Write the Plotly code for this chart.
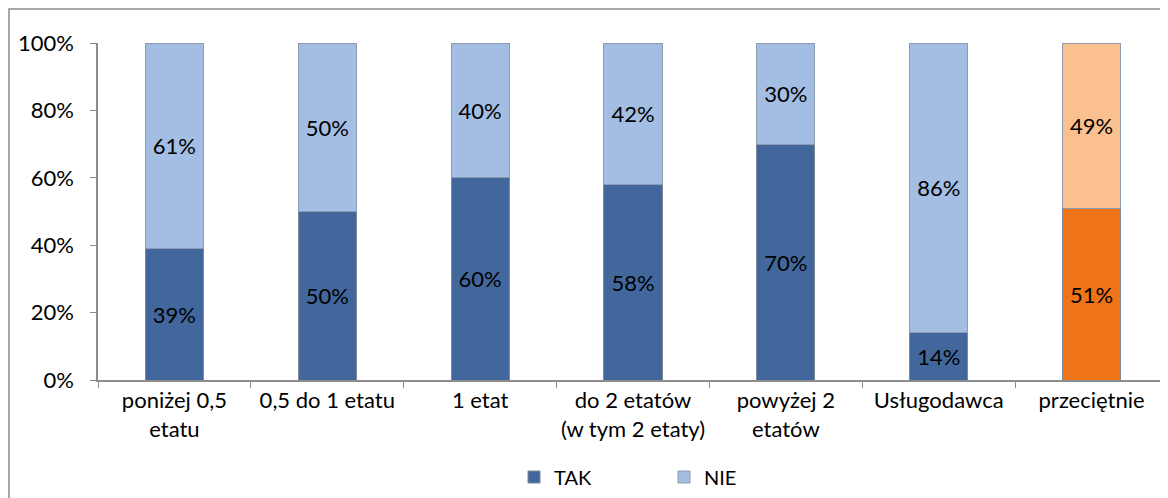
import plotly.graph_objects as go

categories = ["poniżej 0,5<br>etatu", "0,5 do 1 etatu", "1 etat",
              "do 2 etatów<br>(w tym 2 etaty)", "powyżej 2<br>etatów",
              "Usługodawca", "przeciętnie"]
tak = [0.39, 0.50, 0.60, 0.58, 0.70, 0.14, 0.51]
nie = [0.61, 0.50, 0.40, 0.42, 0.30, 0.86, 0.49]

tak_colors = ["#41679D"] * 6 + ["#EE7417"]
nie_colors = ["#A3BEE2"] * 6 + ["#FBC08F"]

FONT = "Lato, 'Open Sans', sans-serif"

# page body has an 8px margin, so the figure is drawn 8px right/down
W, H = 1160, 490
L, T, B = 90, 35, 118
PW = W - L
PH = H - T - B

fig = go.Figure()
fig.add_trace(go.Bar(
    name="TAK", x=categories, y=tak,
    marker=dict(color=tak_colors, line=dict(color="#7F8A99", width=1)),
    text=[f"{round(v*100)}%" for v in tak], textposition="inside",
    insidetextanchor="middle", textangle=0,
    textfont=dict(color="black", size=22, family=FONT),
))
fig.add_trace(go.Bar(
    name="NIE", x=categories, y=nie,
    marker=dict(color=nie_colors, line=dict(color="#8C9BB0", width=1)),
    text=[f"{round(v*100)}%" for v in nie], textposition="inside",
    insidetextanchor="middle", textangle=0,
    textfont=dict(color="black", size=22, family=FONT),
))

fig.update_layout(
    barmode="stack",
    bargap=0.62,
    width=W, height=H,
    margin=dict(l=L, r=0, t=T, b=B, pad=0),
    paper_bgcolor="white", plot_bgcolor="white",
    font=dict(family=FONT, size=22, color="black"),
    showlegend=True,
    legend=dict(orientation="h", x=(514 - 8 - L) / PW, xanchor="left",
                y=-(477 - 8 - (H - B)) / PH, yanchor="middle",
                font=dict(size=20), entrywidth=105, itemwidth=30,
                traceorder="normal"),
    uniformtext=dict(mode=False),
)
fig.update_yaxes(range=[0, 1], dtick=0.2, tickformat=".0%", showgrid=False,
                 showline=True, linecolor="#8C8C8C", linewidth=1.5,
                 ticks="outside", ticklen=6, tickcolor="#8C8C8C",
                 ticklabelstandoff=12,
                 tickfont=dict(size=22), zeroline=False)
fig.update_xaxes(showline=True, linecolor="#8C8C8C", linewidth=1.5,
                 ticks="outside", ticklen=6, tickcolor="#8C8C8C",
                 tickson="boundaries", tickfont=dict(size=22), tickangle=0)

# outer chart border
fig.add_shape(type="rect", xref="paper", yref="paper",
              x0=(1 - L) / PW, x1=1.02,
              y0=-(B + 20) / PH, y1=1 + (T - 1) / PH,
              line=dict(color="#8C8C8C", width=1.5), fillcolor="rgba(0,0,0,0)",
              layer="below")

fig.write_html("out.html")
